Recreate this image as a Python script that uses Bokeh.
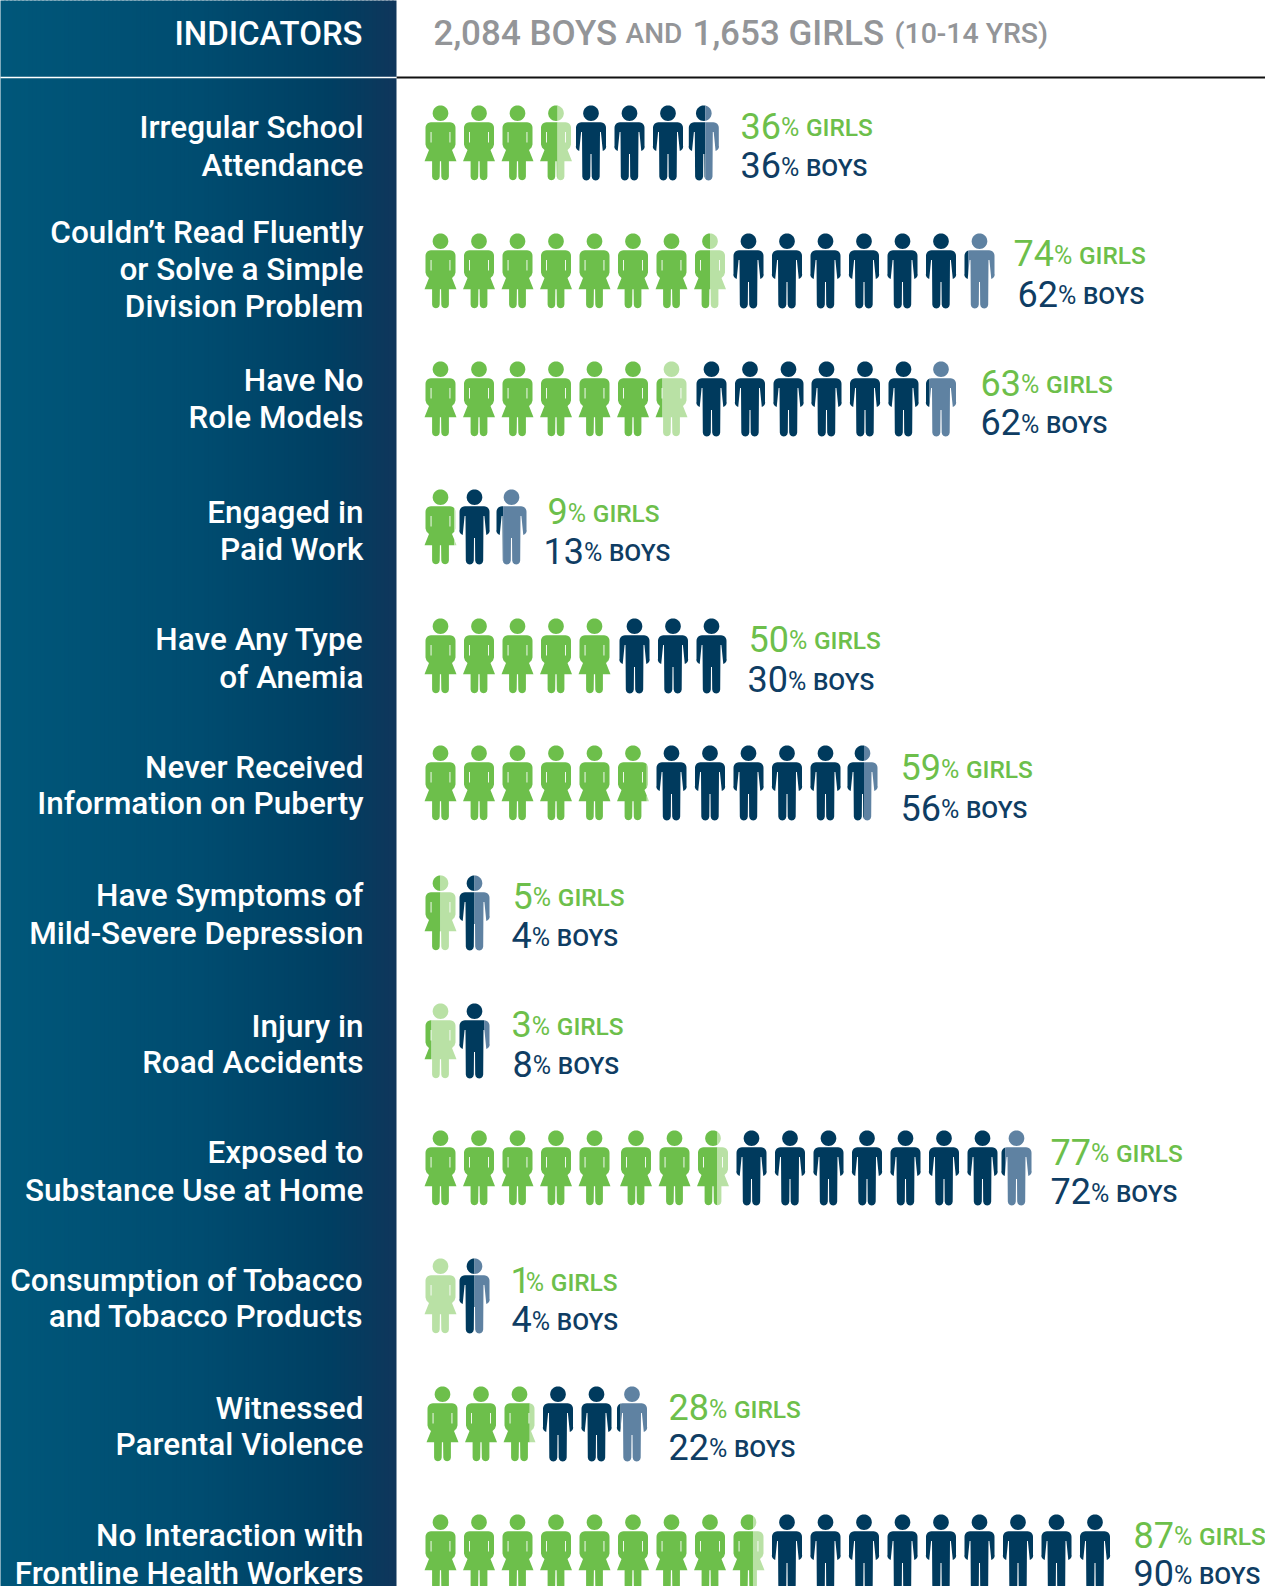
import math
from bokeh.plotting import figure
from bokeh.embed import file_html
from bokeh.resources import INLINE
from bokeh.core.properties import value
from bokeh.models import Range1d

# ---------- data ----------
indicators = [
    ["Irregular School", "Attendance"],
    ["Couldn\u2019t Read Fluently", "or Solve a Simple", "Division Problem"],
    ["Have No", "Role Models"],
    ["Engaged in", "Paid Work"],
    ["Have Any Type", "of Anemia"],
    ["Never Received", "Information on Puberty"],
    ["Have Symptoms of", "Mild-Severe Depression"],
    ["Injury in", "Road Accidents"],
    ["Exposed to", "Substance Use at Home"],
    ["Consumption of Tobacco", "and Tobacco Products"],
    ["Witnessed", "Parental Violence"],
    ["No Interaction with", "Frontline Health Workers"],
]
girls = [36, 74, 63, 9, 50, 59, 5, 3, 77, 1, 28, 87]
boys = [36, 62, 62, 13, 30, 56, 4, 8, 72, 4, 22, 90]

# ---------- layout ----------
W, H = 1265, 1586
PANEL = 396
row_top = [105, 233, 361, 489, 618, 745, 875, 1003, 1130, 1258, 1386, 1514]
label_cy = [[126, 163], [229, 266, 303], [376, 412], [506, 543], [632, 669], [758, 794],
            [885, 922], [1014, 1050], [1139, 1176], [1265, 1301], [1392, 1428], [1518, 1555]]
girl_cy = [124, 250, 378, 505, 631, 758, 885, 1012, 1138, 1265, 1391, 1517]
boy_cy = [163, 290, 417, 544, 671, 798, 924, 1051, 1177, 1304, 1430, 1555]
girl_tx = [740, 1013, 980, 547, 748, 900, 512, 511, 1050, 510, 668, 1133]
boy_tx = [740, 1017, 980, 543, 747, 900, 511, 512, 1050, 511, 668, 1133]
SCALE = 1586 / 1568
nudge = {
    0: {4: -3.5, 5: -3.5, 6: -3.5, 7: -6.2},
    2: {7: 1.5, 8: 1.5, 9: 1.5, 10: 1, 11: 1, 12: 1},
    3: {1: -4.5, 2: -6},
    4: {5: 1.5, 6: 1.5, 7: 1.5},
    5: {11: -1.5},
    6: {1: -4.5}, 7: {1: -4.5}, 9: {1: -4.5},
    8: {5: 3, 6: 3, 7: 3, 8: 3, 9: 3, 10: 3, 11: 3, 12: 3, 13: 3, 14: 3, 15: -1.5},
    10: {0: 2, 1: 2, 2: 2, 3: 2, 4: 2, 5: -1},
}
# share of the partial icon that is solid, by the last digit of the percentage
SPLIT = {1: 0.0, 2: 0.12, 3: 0.22, 4: 0.5, 5: 0.5, 6: 0.55, 7: 0.64, 8: 0.82, 9: 0.93}
C_GREEN, C_GREEN_L = "#6DBF4B", "#B9E1A5"
C_NAVY, C_NAVY_L = "#003A5D", "#5F82A2"
T_GREEN, T_NAVY = "#6DBF4B", "#0F3D63"
GREY = "#939598"
ROBOTO = value("Roboto Medium, Roboto")
ROBOTO_REG = value("Roboto")


def arc(cx, cy, r, a0, a1, n=6):
    return [(cx + r * math.cos(math.radians(a0 + (a1 - a0) * i / n)),
             cy + r * math.sin(math.radians(a0 + (a1 - a0) * i / n))) for i in range(n + 1)]


def half_to_full(right):
    return right + [(-x, y) for x, y in reversed(right)]


HEAD = arc(0, 7.7, 7.8, 0, 360, 32)
BOY = half_to_full(
    [(0, 16.7), (9.5, 16.7)] + arc(9.5, 22.2, 5.5, -90, 0) + [(15, 40.5)] + arc(10.6, 41, 4.6, 0, 75, 4)
    + [(9.9, 26.5), (9.0, 26.5)] + [(8.7, 71)] + arc(4.7, 71, 4.0, 0, 180, 6) + [(0.5, 48.5), (0, 48.5)])
GIRL = half_to_full(
    [(0, 16.7), (9.5, 16.7)] + arc(9.5, 22.2, 5.5, -90, 0) + [(15, 39), (14, 42), (11.5, 44.5), (16, 55.7), (8.4, 55.7), (8.4, 71)]
    + arc(4.6, 71, 3.8, 0, 180, 6) + [(0.6, 55.7), (0, 55.7)])
HALF_W = {"girl": 16.0, "boy": 15.0}


def clip(poly, xcut, keep_left):
    out = []
    inside = (lambda p: p[0] <= xcut) if keep_left else (lambda p: p[0] >= xcut)
    for i, a in enumerate(poly):
        b = poly[(i + 1) % len(poly)]
        if inside(a):
            out.append(a)
        if inside(a) != inside(b):
            t = (xcut - a[0]) / (b[0] - a[0])
            out.append((xcut, a[1] + t * (b[1] - a[1])))
    return out


p = figure(width=W, height=H, x_range=Range1d(0, W), y_range=Range1d(H, 0), output_backend="svg",
           toolbar_location=None, min_border=0, outline_line_color=None, background_fill_color="white",
           border_fill_color="white")
p.axis.visible = False
p.grid.visible = False

# gradient panel
stops = [(0, (0, 87, 122)), (200, (0, 76, 112)), (330, (0, 63, 98)), (396, (15, 54, 91))]


def grad(x):
    for (x0, c0), (x1, c1) in zip(stops, stops[1:]):
        if x <= x1:
            t = (x - x0) / (x1 - x0)
            return "#%02x%02x%02x" % tuple(round(a + (b - a) * t) for a, b in zip(c0, c1))
    return "#0f365b"


lefts = list(range(0, PANEL, 4))
p.quad(left=[x if x else -10 for x in lefts], right=[min(x + 5, PANEL) for x in lefts],
       top=[-10] * len(lefts), bottom=[H + 10] * len(lefts),
       fill_color=[grad(x + 2) for x in lefts], line_color=None)
p.line([PANEL, W], [77, 77], line_color="#111111", line_width=2)
p.line([-5, PANEL], [77, 77], line_color="white", line_width=1.5)

# icons
pat = {c: ([], []) for c in (C_GREEN, C_GREEN_L, C_NAVY, C_NAVY_L)}
slit_x, slit_y = [], []


def add(color, poly, cx, top):
    if len(poly) >= 3:
        pat[color][0].append([cx + x for x, _ in poly])
        pat[color][1].append([top + y for _, y in poly])


for r, (g, b) in enumerate(zip(girls, boys)):
    seq = []
    for kind, v in (("girl", g), ("boy", b)):
        seq += [(kind, 1.0)] * (v // 10)
        if v % 10:
            seq.append((kind, SPLIT[v % 10]))
    for i, (kind, frac) in enumerate(seq):
        cx = 440 + 38.5 * i + nudge.get(r, {}).get(i, 0)
        top = row_top[r]
        dark, light = (C_GREEN, C_GREEN_L) if kind == "girl" else (C_NAVY, C_NAVY_L)
        shape = GIRL if kind == "girl" else BOY
        hw = HALF_W[kind]
        cut = -hw + 2 * hw * frac
        for poly in (HEAD, shape):
            if frac >= 1:
                add(dark, poly, cx, top)
            else:
                add(light, clip(poly, cut, False), cx, top)
                add(dark, clip(poly, cut, True), cx, top)
        if kind == "girl":
            for s in (-1, 1):
                slit_x.append([cx + s * 9.0, cx + s * 9.9, cx + s * 9.9, cx + s * 9.0])
                slit_y.append([top + 26.5, top + 26.5, top + 37, top + 37])

for color, (xs, ys) in pat.items():
    p.patches(xs, ys, fill_color=color, line_color=None)
p.patches(slit_x, slit_y, fill_color="white", line_color=None)


def txt(xs, ys, ts, size, color, font=ROBOTO, style="normal", align="left"):
    p.text(xs, ys, text=ts, text_font=font, text_font_size=size, text_font_style=style,
           text_color=color, text_align=align, text_baseline="middle")


# left labels
lx, ly, lt = [], [], []
for lines, cys in zip(indicators, label_cy):
    for t, cy in zip(lines, cys):
        lx.append(363)
        ly.append(cy * SCALE)
        lt.append(t)
txt(lx, ly, lt, "31.5px", "white", align="right")
txt([362], [32.5], ["INDICATORS"], "33px", "white", align="right")

# header
txt([433], [32.5], ["2,084 BOYS"], "35px", GREY)
txt([625], [33], ["AND"], "28px", GREY)
txt([692], [32.5], ["1,653 GIRLS"], "35px", GREY)
txt([894], [33], ["(10-14 YRS)"], "28.5px", GREY)


# value labels
def value_row(vals, xs, cys, word, color):
    nx, ny, nt, px, pt, wx, wt = [], [], [], [], [], [], []
    for v, x, cy in zip(vals, xs, cys):
        base = cy * SCALE
        s = str(v)
        w = 20.2 * len(s) - (5 if s == "1" else 0)
        nx.append(x); ny.append(base); nt.append(s)
        px.append(x + w); pt.append("%")
        wx.append(x + w + 25); wt.append(word)
    txt(nx, ny, nt, "36px", color, font=ROBOTO_REG)
    txt(px, [y + 2 for y in ny], pt, "25px", color, font=ROBOTO_REG)
    txt(wx, [y + 2 for y in ny], wt, "24.5px", color)


value_row(girls, girl_tx, girl_cy, "GIRLS", T_GREEN)
value_row(boys, boy_tx, boy_cy, "BOYS", T_NAVY)

open("out.html", "w").write(file_html(p, INLINE))
